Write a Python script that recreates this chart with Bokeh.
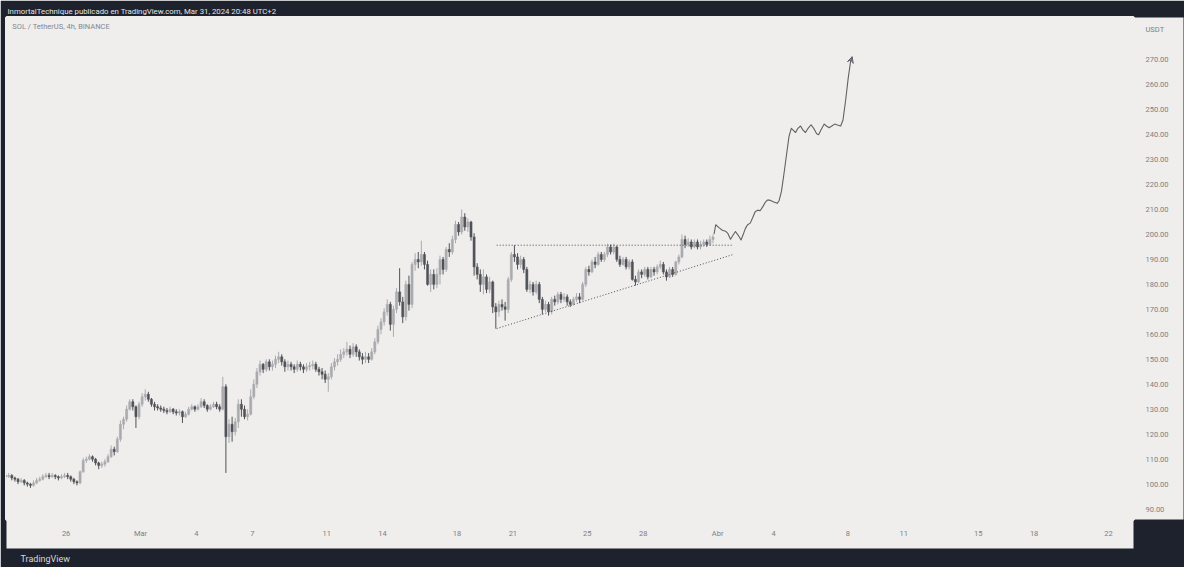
import pandas as pd
from bokeh.plotting import figure
from bokeh.models import (Range1d, FixedTicker, NumeralTickFormatter, Title, Label,
                          Arrow, VeeHead, ColumnDataSource)
from bokeh.embed import file_html
from bokeh.resources import INLINE

# ---------------- data ----------------
first_open = 103.5
candle_start = "2024-02-22 18:00"   # 4h candles
closes = [
    103, 103.5,
    102.5, 102, 101, 101.5, 100.5, 100,
    99.5, 100.5, 101.5, 102, 103, 103.5,
    103, 103.5, 103, 102.5, 103, 103.5,
    103, 102, 101, 100.5, 105, 109.5,
    110, 111, 110, 108.5, 107.5, 108,
    109, 111, 114, 113, 118, 124,
    126, 130, 133, 131, 127, 132,
    135, 136, 134, 132, 131, 130.5,
    130, 129.5, 129, 130, 129, 128.5,
    129, 127, 128, 130, 131, 130,
    131, 133, 131.5, 130, 131, 132,
    131, 130, 139, 119, 124, 121,
    125, 132, 130, 127, 128, 135,
    140, 145, 148, 146, 149, 147,
    148, 150, 151, 149, 147, 148,
    147, 146, 148, 147, 146, 147,
    147.5, 148, 146, 145, 144, 142,
    143, 147, 149, 150, 152, 153,
    154, 152, 155, 153, 151, 150,
    151, 150, 153, 157, 162, 165,
    169, 172, 164, 170, 177, 173,
    167, 180, 172, 188, 190, 189,
    192, 188, 180, 184, 180, 184,
    190, 186, 194, 193, 198, 204,
    201, 207, 203, 205, 199, 187,
    184, 180, 183, 178, 181, 171,
    169, 172, 171, 170, 182, 192,
    191, 188, 190, 186, 178, 180,
    177, 180, 174, 170, 172, 169,
    174, 173, 176, 174, 175, 173,
    172, 174, 175, 174, 180, 186,
    185, 189, 188, 192, 190, 192,
    195, 193, 195, 190, 188, 190,
    187, 189, 182, 181, 185, 184,
    186, 183, 186, 185, 187, 188,
    185, 183, 186, 184, 189, 191,
    198, 196, 197, 195, 197, 195,
    196, 197, 196, 198, 199,
]
highs = [
    104.5, 104.5,
    104, 103, 102.5, 102.5, 102, 101,
    100.5, 101.5, 102.5, 103, 104, 104.5,
    104.5, 104.5, 104, 103.5, 104, 104.5,
    104.5, 103.5, 102.5, 101.5, 105.5, 110.5,
    111, 112, 111.5, 110.5, 109, 109,
    110, 112, 115.5, 115, 119, 125.5,
    127, 131.5, 134, 134, 131.5, 133,
    136.5, 138, 137, 134.5, 133, 132,
    131.5, 131, 130.5, 131, 130.5, 130,
    130, 129.5, 129, 131, 132, 131.5,
    132, 134.5, 134, 132, 132, 133,
    133, 132, 143, 140, 126, 127,
    126.5, 134, 134, 131.5, 130, 138,
    142, 146.5, 149.5, 148.5, 150, 150,
    149.5, 151.5, 153, 152, 150, 149.5,
    149, 148, 149.5, 149, 148, 148.5,
    149, 149.5, 149, 147, 146.5, 145.5,
    144.5, 148.5, 150.5, 152, 154, 154.5,
    157, 155.5, 156.5, 156, 154, 152.5,
    153, 152.5, 154.5, 158.5, 163.5, 166.5,
    170.5, 174, 173, 171.5, 178.5, 186.5,
    175, 181.5, 183.5, 189, 192.5, 193,
    197.5, 193, 189.5, 186, 186, 186.5,
    191.5, 191, 195, 196.5, 199.5, 205.5,
    205, 210, 208.5, 206.5, 205.5, 200.5,
    188.5, 186, 186, 184, 183, 181.5,
    172.5, 173.5, 174, 173, 183, 193,
    195.7, 192.5, 191.5, 191, 187, 181.5,
    181, 181.5, 181, 175, 173.5, 173,
    175, 175.5, 177, 177, 176.5, 176,
    174, 175, 176.5, 176.5, 181, 187,
    187.5, 190, 191, 193, 193, 193,
    196.3, 196, 196.3, 195.5, 191.5, 191,
    191, 190, 190, 183.5, 186, 186,
    187, 187, 187, 187, 188, 189.5,
    189, 186, 187, 187, 189.5, 192,
    200, 199.5, 198.5, 198, 198, 198,
    197.5, 198, 198, 199.5, 200,
]
lows = [
    101.5, 102.5,
    101.5, 101, 100, 100.5, 99.5, 99,
    98.5, 99, 100, 101, 101.5, 102.5,
    102, 102.5, 102, 101.5, 102, 102.5,
    102, 101, 100, 99.5, 100, 104.5,
    108.5, 109.5, 109, 107.5, 106, 106.5,
    107, 108.5, 110.5, 111.5, 112.5, 117,
    122, 125, 129.5, 129.5, 122.5, 126,
    131, 133.5, 133, 131, 129.5, 129.5,
    129, 128.5, 128, 128.5, 128, 127.5,
    127.5, 124.5, 126.5, 127.5, 129.5, 129,
    129.5, 130.5, 130.5, 129, 129.5, 130.5,
    130, 129, 129.5, 104.5, 116.5, 117,
    119.5, 122.5, 127, 126, 125.5, 127.5,
    134, 138.5, 143.5, 144.5, 145, 145.5,
    145.5, 146.5, 148.5, 147.5, 145, 145.5,
    145.5, 144.5, 145, 145.5, 144.5, 145,
    145.5, 146, 145, 143.5, 142, 140.5,
    137, 142, 145.5, 147.5, 149, 150.5,
    151.5, 150.5, 151, 151, 149.5, 148,
    148.5, 148.5, 149.5, 152, 156, 160,
    163.5, 167.5, 161.5, 159, 168.5, 171.5,
    164.5, 165.5, 169.5, 170.5, 185.5, 186.5,
    187.5, 186, 179.5, 177, 178, 178.5,
    180, 184, 185, 191, 192, 196.5,
    199.5, 200, 201.5, 201, 197.5, 183.5,
    182, 177, 176, 176.5, 176.5, 168.5,
    162.3, 167, 169.5, 165.5, 168.5, 181,
    189, 186, 186.5, 184.5, 177, 176.5,
    175.5, 176, 172.5, 168, 169, 167.5,
    168, 171.5, 172, 172.5, 173, 171.5,
    171, 171.5, 173, 172.5, 173.5, 179,
    183.5, 184.5, 186.5, 187.5, 189, 189,
    191, 192, 192, 189, 187, 187.5,
    186, 186, 181.5, 179.5, 180.5, 182.5,
    183, 182, 182.5, 183.5, 184, 186,
    184, 181.5, 182.5, 183, 183.5, 188,
    190.5, 194.5, 195, 194, 194.5, 194,
    194, 195, 195, 195.5, 196.5,
]

# triangle (days after 1 Mar, price)
tri_days = [19.13, 31.80]
tri_top = [195.7, 195.7]
tri_bottom = [162.3, 191.9]

# projected path (days after 1 Mar, price)
proj_days = [30.807, 30.896, 31.072, 31.249, 31.426, 31.549, 31.691, 31.832, 31.956,
             32.097, 32.256, 32.362, 32.486, 32.609, 32.751, 32.892, 33.016, 33.157,
             33.281, 33.422, 33.545, 33.669, 33.810, 33.987, 34.199, 34.305, 34.428,
             34.552, 34.693, 34.834, 34.958, 35.082, 35.188, 35.311, 35.453, 35.577,
             35.718, 35.859, 36.018, 36.159, 36.318, 36.424, 36.548, 36.725, 36.848,
             36.990, 37.131, 37.290, 37.431, 37.608, 37.732, 37.873, 38.014, 38.138,
             38.226]
proj_price = [200.14, 203.90, 202.74, 201.70, 201.31, 200.40, 198.07, 199.76, 201.18,
              199.76, 197.81, 199.76, 202.34, 203.90, 204.55, 206.88, 209.08, 209.74,
              209.48, 211.05, 212.72, 213.75, 213.75, 213.11, 212.46, 213.62, 217.25,
              223.73, 231.51, 239.28, 242.52, 241.62, 240.84, 242.52, 243.43, 241.88,
              240.84, 242.52, 243.95, 242.52, 240.32, 239.93, 241.88, 244.21, 243.43,
              242.78, 243.43, 244.21, 243.82, 243.43, 245.76, 253.54, 262.61, 269.09,
              271.17]

tick_dates = ["2024-02-26", "2024-03-01", "2024-03-04", "2024-03-07", "2024-03-11",
              "2024-03-14", "2024-03-18", "2024-03-21", "2024-03-25", "2024-03-28",
              "2024-04-01", "2024-04-04", "2024-04-08", "2024-04-11", "2024-04-15",
              "2024-04-18", "2024-04-22"]
tick_labels = ["26", "Mar", "4", "7", "11", "14", "18", "21", "25", "28",
               "Abr", "4", "8", "11", "15", "18", "22"]
price_ticks = [90, 100, 110, 120, 130, 140, 150, 160, 170, 180, 190, 200,
               210, 220, 230, 240, 250, 260, 270]
currency_label = "USDT"
currency_at = 282.0

# ---------------- derived ----------------
ref = pd.Timestamp("2024-03-01")
times = pd.date_range(candle_start, periods=len(closes), freq="4h")
days = [(t - ref) / pd.Timedelta(days=1) for t in times]
opens = [first_open] + closes[:-1]
UP, DOWN = "#aaabaf", "#505258"
cols = [UP if c >= o else DOWN for o, c in zip(opens, closes)]
src = ColumnDataSource(dict(
    x=days, o=opens, c=closes,
    h=[max(h, o, c) for h, o, c in zip(highs, opens, closes)],
    l=[min(l, o, c) for l, o, c in zip(lows, opens, closes)],
    top=[max(o, c) for o, c in zip(opens, closes)],
    bot=[min(o, c) for o, c in zip(opens, closes)],
    col=cols))

BG = "#efeeec"
DARK = "#1e222d"
FONT = "Roboto"

p = figure(width=1184, height=567, output_backend="svg", toolbar_location=None,
           x_range=Range1d(-7.203, 53.34), y_range=Range1d(85.84, 286.9),
           y_axis_location="right",
           min_border_left=6, min_border_right=51, min_border_top=17, min_border_bottom=47)
p.background_fill_color = BG
p.outline_line_color = BG
p.outline_line_width = 3
p.grid.visible = False

axes = (p.xaxis[0], p.yaxis[0])
if "background_fill_color" in axes[0].properties():
    p.border_fill_color = DARK
    for ax in axes:
        ax.background_fill_color = BG
else:
    p.border_fill_color = BG

p.title = Title(text="InmortalTechnique publicado en TradingView.com, Mar 31, 2024 20:48 UTC+2",
                align="left", text_color="#e4e4e4", text_font=FONT, text_font_size="7.8px",
                text_font_style="normal", background_fill_color=DARK, standoff=3, offset=1)

p.add_layout(Title(text="TradingView", align="left", text_color="#d8d8d8", text_font=FONT,
                   text_font_size="9px", text_font_style="normal",
                   background_fill_color=DARK, standoff=7, offset=14), "below")

# axes
for ax in axes:
    ax.axis_line_color = None
    ax.major_tick_line_color = None
    ax.minor_tick_line_color = None
    ax.major_tick_out = 0
    ax.major_tick_in = 0
    ax.minor_tick_out = 0
    ax.minor_tick_in = 0
    ax.major_label_text_font = FONT
    ax.major_label_text_font_size = "7.5px"
    ax.major_label_text_color = "#7c7e86"
    ax.axis_label = " "
    ax.axis_label_standoff = 0
    ax.axis_label_text_color = BG

tick_days = [(pd.Timestamp(d) - ref) / pd.Timedelta(days=1) for d in tick_dates]
p.xaxis.ticker = FixedTicker(ticks=tick_days)
p.xaxis.major_label_overrides = {float(d): lab for d, lab in zip(tick_days, tick_labels)}
p.xaxis.major_label_standoff = 9
p.xaxis.axis_label_text_font_size = "4px"
p.yaxis.ticker = FixedTicker(ticks=price_ticks + [currency_at])
p.yaxis.formatter = NumeralTickFormatter(format="0.00")
p.yaxis.major_label_overrides = {currency_at: currency_label}
p.yaxis.major_label_standoff = 12
p.yaxis.axis_label_text_font_size = "7px"
p.yaxis.axis_label_standoff = 2

# candles
p.segment(x0="x", y0="h", x1="x", y1="l", color="col", line_width=1, source=src)
p.vbar(x="x", top="top", bottom="bot", width=0.115, fill_color="col", line_color="col",
       line_width=0.5, source=src)

# triangle
p.line(tri_days, tri_top, line_color="#4a4c52", line_width=1, line_dash="1 2")
p.line(tri_days, tri_bottom, line_color="#4a4c52", line_width=1, line_dash="1 2")

# projection
LINE = "#5f6166"
p.line(proj_days, proj_price, line_color=LINE, line_width=1.1, line_join="round")
p.add_layout(Arrow(end=VeeHead(size=6, fill_color=None, line_color=LINE, line_width=1),
                   x_start=proj_days[-2], y_start=proj_price[-2],
                   x_end=proj_days[-1], y_end=proj_price[-1],
                   line_color=LINE, line_width=1.1))

# symbol label
p.add_layout(Label(x=-6.891, y=283.19, text="SOL / TetherUS, 4h, BINANCE", text_font=FONT,
                   text_font_size="7.5px", text_color="#85878d", text_baseline="middle"))

open("out.html", "w").write(file_html(p, INLINE))
